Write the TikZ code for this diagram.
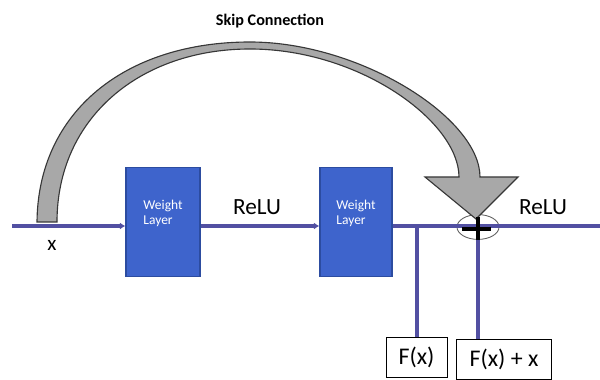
\documentclass[tikz,border=0pt]{standalone}
\usepackage{fontspec}
\setmainfont{Carlito}
\usetikzlibrary{shapes.geometric,arrows.meta,positioning}
\definecolor{rnline}{RGB}{82,80,162}
\definecolor{rnblue}{RGB}{62,100,204}
\definecolor{rnedge}{RGB}{44,76,160}
\definecolor{rngray}{RGB}{168,168,168}
\definecolor{rndark}{RGB}{55,55,55}

\begin{document}
\begin{tikzpicture}[
  x=0.025cm, y=-0.025cm,
  layer/.style={rectangle, draw=rnedge, thick, fill=rnblue, text=white,
    minimum height=2.725cm, align=left, inner sep=0pt,
    font=\fontsize{9.6}{10.8}\selectfont},
  outbox/.style={rectangle, draw=black, semithick, fill=white, minimum height=1cm,
    inner sep=0pt, font=\fontsize{17}{20}\selectfont},
  sum/.style={ellipse, draw=rndark!80, semithick, minimum width=1.05cm,
    minimum height=0.62cm, inner sep=0pt},
  lbl/.style={inner sep=0pt, font=\fontsize{16.5}{19}\selectfont},
  flow/.style={line width=2.6pt, rnline},
  arr/.style={flow, -{Latex[length=4pt, width=5pt]}},
  plus/.style={line width=2.6pt, black},
  skiparrow/.style={fill=rngray, draw=rndark, line width=0.8pt, line join=miter}]

\useasboundingbox (0,0) rectangle (600,380);

\coordinate (in) at (12,226);
\coordinate (out) at (600,226);
\coordinate (tap) at (417,226);
\node[layer, minimum width=1.85cm] (wl1) at (163,222) {Weight\\Layer\\[3pt]};
\node[layer, minimum width=1.8cm] (wl2) at (356,222) {Weight\\Layer\\[3pt]};
\node[sum] (add) at (478,227) {};
\node[outbox, minimum width=1.525cm] (fx) at (416.5,357) {F(x)};
\node[outbox, minimum width=2.375cm] (fxx) at (504,359) {F(x) + x};
\node[lbl] (relu1) at (257,207) {ReLU};
\node[lbl] (relu2) at (543,207) {ReLU};
\node[lbl, font=\fontsize{15}{18}\selectfont] (xin) at (52,245) {x};
\node[inner sep=0pt, font=\fontsize{11.5}{13}\selectfont\bfseries] (skip) at (270,21) {Skip Connection};

\draw[arr] (in) -- (in -| wl1.west);
\draw[arr] (wl1.east |- in) -- (wl2.west |- in);
\draw[flow] (wl2.east |- in) -- (out);
\draw[flow] (tap) -- (tap |- fx.north);
\draw[flow] (add.south) -- (add.south |- fxx.north);

\draw[skiparrow] (37,222) .. controls (38,112) and (125,42) .. (250,42)
  .. controls (360,42) and (480,118) .. (480,177) -- (518,177) -- (476,219)
  -- (425,177) -- (459,177) .. controls (459,122) and (360,49) .. (250,49)
  .. controls (140,49) and (57,118) .. (57,222) -- cycle;

\draw[plus] (add.center) ++(-16,2) -- ++(29,0);
\draw[plus] (add.center) ++(0,-10) -- ++(0,23);
\end{tikzpicture}
\end{document}
